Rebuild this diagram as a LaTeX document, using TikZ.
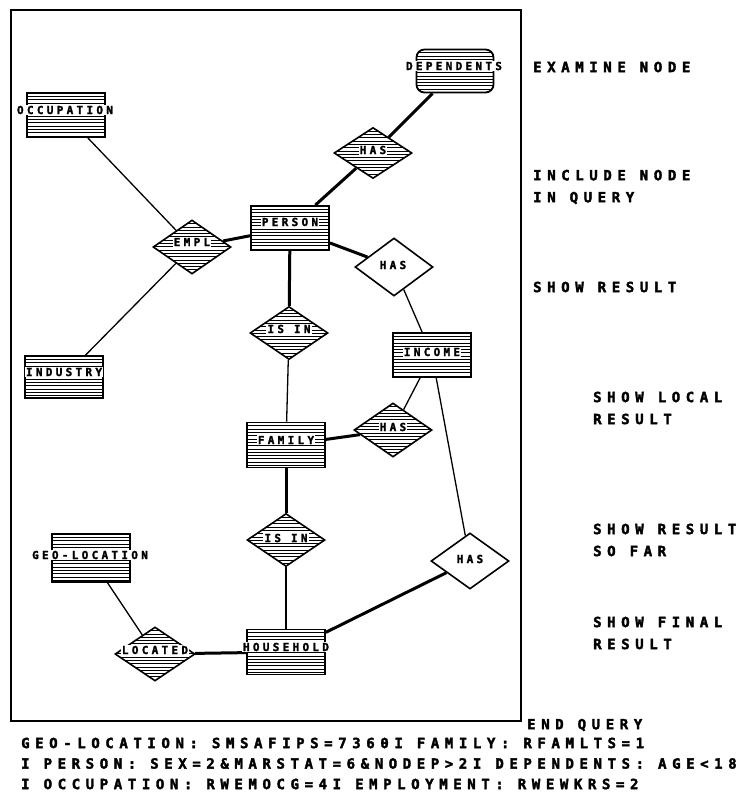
\documentclass[tikz,border=0pt]{standalone}
\usepackage{fontspec}
\setmainfont{Liberation Sans}
\newfontfamily\plotfont{DejaVu Sans Mono Bold}[LetterSpace=40,FakeBold=2.5]
\newfontfamily\labfont{DejaVu Sans Mono Bold}[LetterSpace=30,FakeBold=2]
\usetikzlibrary{shapes.geometric,shapes.misc}
\tikzset{
  stripes/.style={path picture={\foreach \k in {1,...,20}{\draw[line width=0.75pt] ([yshift=-\k*3.3pt]path picture bounding box.north west) -- ([yshift=-\k*3.3pt]path picture bounding box.north east);}}},
  entity/.style={draw, line width=1.8pt, rectangle, minimum width=78pt, minimum height=44pt, inner sep=0pt, stripes},
  wentity/.style={draw, line width=1.8pt, rectangle, rounded corners=8pt, minimum width=77pt, minimum height=43pt, inner sep=0pt, stripes},
  relh/.style={draw, line width=1.6pt, diamond, aspect=1.45, minimum width=78pt, minimum height=54pt, inner sep=0pt, stripes},
  relw/.style={draw, line width=1.6pt, diamond, aspect=1.35, minimum width=78pt, minimum height=58pt, inner sep=0pt, fill=white},
  lab/.style={font=\labfont\fontsize{11}{11}\selectfont, fill=white, inner sep=1pt},
  wlab/.style={font=\labfont\fontsize{11}{11}\selectfont, inner sep=1pt},
  strong/.style={line width=3pt},
  weak/.style={line width=1.3pt},
  side/.style={font=\plotfont\fontsize{14}{22}\selectfont, anchor=west, align=left, inner sep=0pt},
  query/.style={font=\plotfont\fontsize{14}{14}\selectfont, anchor=west, inner sep=0pt}
}
\begin{document}
\begin{tikzpicture}[x=1pt,y=-1pt]
\useasboundingbox (0,0) rectangle (750,796);
\draw[line width=1.5pt] (11,10) rectangle (521,721);
% entities and relationships
\node[wentity] (dep) at (455,71) {};
\node[entity] (occ) at (66,115) {};
\node[entity] (per) at (290,228) {};
\node[relh] (empl) at (192,247) {};
\node[relh, minimum height=51pt] (has1) at (373,153) {};
\node[relw] (has2) at (394,267) {};
\node[relh, minimum height=53pt] (isin1) at (289,333) {};
\node[entity] (inc) at (432,355) {};
\node[entity, minimum height=42pt] (ind) at (64,377) {};
\node[entity, minimum height=45pt] (fam) at (286,445) {};
\node[relh] (has3) at (393,430) {};
\node[relh, minimum height=53pt] (isin2) at (286,540) {};
\node[relw, minimum height=56pt] (has4) at (470,561) {};
\node[entity, minimum height=48pt] (geo) at (91,558) {};
\node[relh, minimum width=80pt] (loc) at (155,654) {};
\node[entity, minimum height=45pt] (hh) at (286,652) {};
% connectors
\draw[strong] (dep) -- (has1);
\draw[strong] (has1) -- (per);
\draw[weak] (occ) -- (empl);
\draw[strong] (empl) -- (per);
\draw[weak] (empl) -- (ind);
\draw[strong] (per) -- (has2);
\draw[strong] (per) -- (isin1);
\draw[weak] (isin1) -- (fam);
\draw[weak] (has2) -- (inc);
\draw[weak] (inc) -- (has3);
\draw[strong] (fam) -- (has3);
\draw[weak] (inc) -- (has4);
\draw[strong] (fam) -- (isin2);
\draw[weak] (isin2) -- (hh);
\draw[strong] (hh) -- (has4);
\draw[weak] (geo) -- (loc);
\draw[strong] (loc) -- (hh);
% labels
\node[lab] (depL) at (454,66) {DEPENDENTS};
\node[lab] (occL) at (65,110) {OCCUPATION};
\node[lab] (perL) at (290,222) {PERSON};
\node[lab] (emplL) at (192,242) {EMPL};
\node[lab] (has1L) at (373,150) {HAS};
\node[wlab] (has2L) at (393,265) {HAS};
\node[lab] (isin1L) at (289,329) {IS IN};
\node[lab] (incL) at (432,352) {INCOME};
\node[lab] (indL) at (64,372) {INDUSTRY};
\node[lab] (famL) at (286,440) {FAMILY};
\node[lab] (has3L) at (393,427) {HAS};
\node[lab] (isin2L) at (286,538) {IS IN};
\node[wlab] (has4L) at (470,559) {HAS};
\node[lab] (geoL) at (90,555) {GEO-LOCATION};
\node[lab] (locL) at (155,650) {LOCATED};
\node[lab] (hhL) at (286,647) {HOUSEHOLD};
% side menu
\node[side] (m1) at (533,67) {EXAMINE NODE};
\node[side] (m2) at (533,187) {INCLUDE NODE\\IN QUERY};
\node[side] (m3) at (533,287) {SHOW RESULT};
\node[side] (m4) at (593,408) {SHOW LOCAL\\RESULT};
\node[side] (m5) at (593,540) {SHOW RESULT\\SO FAR};
\node[side] (m6) at (593,633) {SHOW FINAL\\RESULT};
\node[side] (m7) at (527,725) {END QUERY};
% query text
\node[query] (q1) at (21,743) {GEO-LOCATION: SMSAFIPS=7360I FAMILY: RFAMLTS=1};
\node[query] (q2) at (21,763.5) {I PERSON: SEX=2\&MARSTAT=6\&NODEP>2I DEPENDENTS: AGE<18};
\node[query] (q3) at (21,784) {I OCCUPATION: RWEMOCG=4I EMPLOYMENT: RWEWKRS=2};
\end{tikzpicture}
\end{document}
